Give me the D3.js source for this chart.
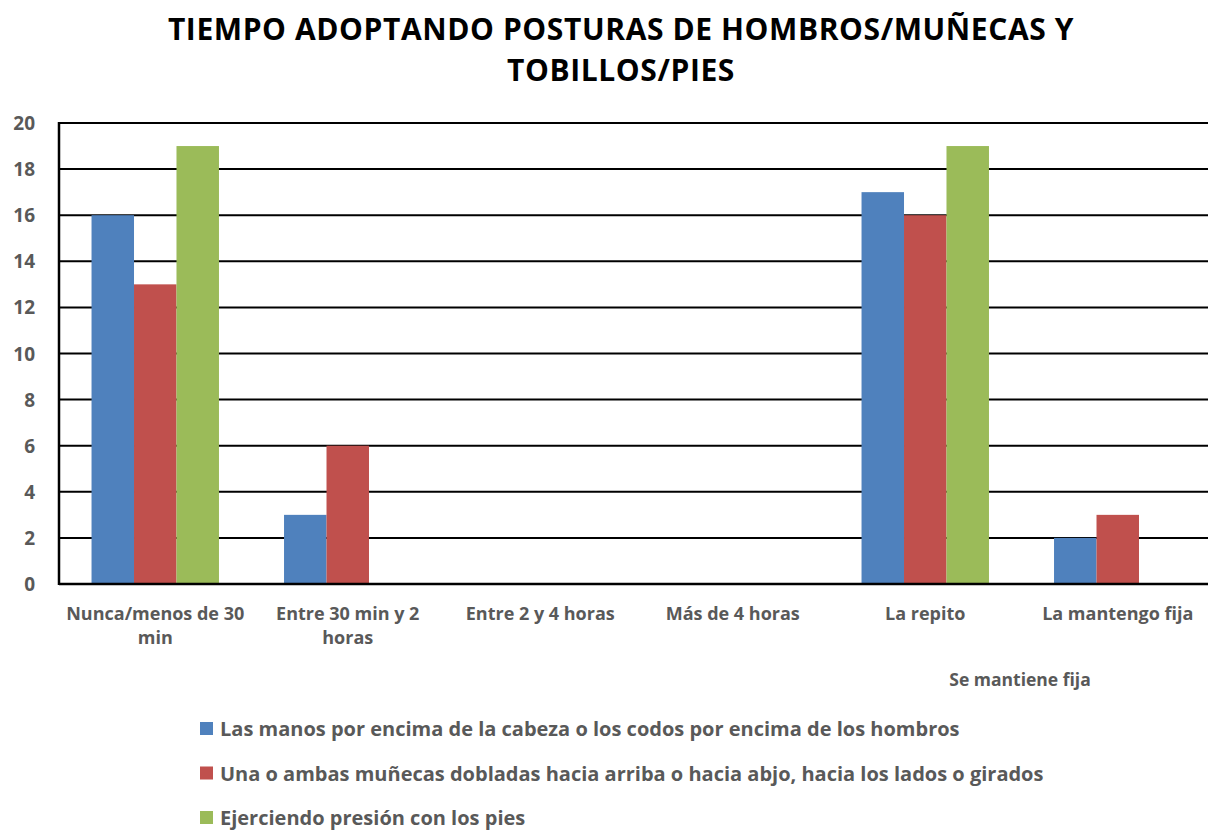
<!DOCTYPE html>
<html><head><meta charset="utf-8">
<script src="https://cdn.jsdelivr.net/npm/d3@7"></script>
<style>body{margin:0;background:#fff}svg{display:block}text{font-family:"Open Sans",Lato,sans-serif}</style>
</head><body><svg id="c" width="1208" height="832"></svg>
<script>
const categories = [["Nunca/menos de 30","min"],["Entre 30 min y 2","horas"],["Entre 2  y 4 horas"],["Más de 4 horas"],["La repito"],["La mantengo fija"]];
const seriesNames = ["Las manos por encima de la cabeza o los codos por encima de los hombros","Una o ambas muñecas dobladas hacia arriba o hacia abjo, hacia los lados o girados","Ejerciendo presión con los pies"];
const seriesColors = ["#4F81BD","#C0504D","#9BBB59"];
const blueVals = [16,3,0,0,17,2];
const redVals = [13,6,0,0,16,3];
const greenVals = [19,0,0,0,19,0];
const yTicks = [0,2,4,6,8,10,12,14,16,18,20];
const titleLines = ["TIEMPO ADOPTANDO POSTURAS DE HOMBROS/MUÑECAS Y","TOBILLOS/PIES"];
const axisTitle = "Se mantiene fija";

const values = [blueVals, redVals, greenVals];
const svg = d3.select("#c");
const L = 59, R = 1214, T = 123, B = 584;
const x = d3.scaleBand().domain(d3.range(categories.length)).range([L,R]).paddingInner(0.338).paddingOuter(0.169);
const xs = d3.scaleBand().domain(d3.range(3)).range([0,x.bandwidth()]);
const y = d3.scaleLinear().domain([0,20]).range([B,T]);

svg.append("g").selectAll("text").data(titleLines).join("text")
  .attr("x",621).attr("y",(d,i)=>40+i*41).attr("text-anchor","middle")
  .attr("font-size",30).attr("letter-spacing",0.6).attr("font-weight","bold").attr("fill","#000").text(d=>d);

// gridlines
svg.append("g").selectAll("line").data(yTicks.filter(d=>d>0)).join("line")
  .attr("x1",L).attr("x2",R).attr("y1",d=>y(d)).attr("y2",d=>y(d))
  .attr("stroke","#000").attr("stroke-width",2);

// bars
const g = svg.append("g");
values.forEach((vals,si)=>{
  g.selectAll(null).data(vals).join("rect")
    .attr("x",(d,i)=>x(i)+xs(si)).attr("width",xs.bandwidth())
    .attr("y",d=>y(d)).attr("height",d=>B-y(d)).attr("fill",seriesColors[si]);
});

// axes lines
svg.append("line").attr("x1",L).attr("x2",R).attr("y1",B).attr("y2",B).attr("stroke","#000").attr("stroke-width",2.5);
svg.append("line").attr("x1",L).attr("x2",L).attr("y1",T-1).attr("y2",B+1).attr("stroke","#000").attr("stroke-width",2.5);

// y labels
svg.append("g").selectAll("text").data(yTicks).join("text")
  .attr("x",35).attr("y",d=>y(d)+7).attr("text-anchor","end")
  .attr("font-size",19).attr("font-weight","bold").attr("fill","#595959").text(d=>d);

// x labels
const xl = svg.append("g").selectAll("text").data(categories).join("text")
  .attr("x",(d,i)=>x(i)+x.bandwidth()/2).attr("y",620).attr("text-anchor","middle")
  .attr("font-size",18).attr("font-weight","bold").attr("fill","#595959");
xl.selectAll("tspan").data(d=>d).join("tspan")
  .attr("x",function(){return this.parentNode.getAttribute("x");})
  .attr("dy",(d,i)=>i?24:0).text(d=>d);

svg.append("text").attr("x",1020).attr("y",686).attr("text-anchor","middle")
  .attr("font-size",17.5).attr("font-weight","bold").attr("fill","#595959").text(axisTitle);

// legend
const lg = svg.append("g").selectAll("g").data(seriesNames).join("g")
  .attr("transform",(d,i)=>`translate(200,${729+i*44.5})`);
lg.append("rect").attr("x",0).attr("y",-7).attr("width",13).attr("height",13).attr("fill",(d,i)=>seriesColors[i]);
lg.append("text").attr("x",20).attr("y",7).attr("font-size",20).attr("font-weight","bold").attr("fill","#595959").text(d=>d);
</script></body></html>
